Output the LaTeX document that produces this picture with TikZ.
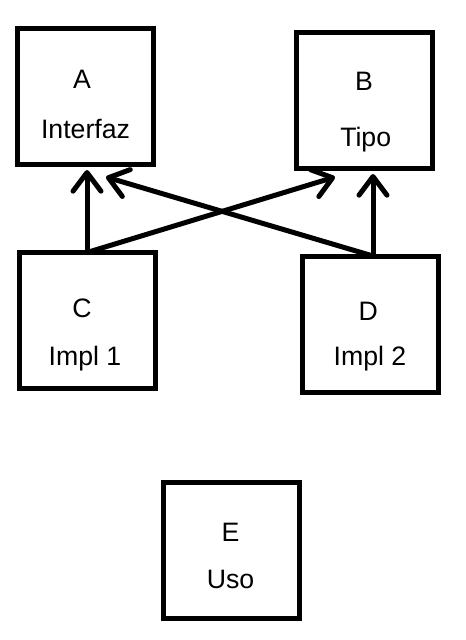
\documentclass[tikz,border=0pt]{standalone}
\usepackage{fontspec}
\setmainfont{Liberation Sans}
\usetikzlibrary{arrows.meta}
\begin{document}
\begin{tikzpicture}[x=0.75pt,y=-0.75pt,
  box/.style={draw=black,line width=3.75pt,minimum width=136*0.75pt,minimum height=136*0.75pt,inner sep=0pt,outer sep=0pt},
  txt/.style={anchor=base,font=\fontsize{20}{24}\selectfont,inner sep=0pt},
  arr/.style={line width=3.75pt,line cap=round,-{Straight Barb[length=14pt,width=21pt,line cap=round,line join=round]}}]
\useasboundingbox (0,0) rectangle (466,640);
\node[box] (A) at (85,96.5) {};
\node[box] (B) at (364.5,100) {};
\node[box] (C) at (87,320.5) {};
\node[box] (D) at (370,324) {};
\node[box] (E) at (231,550) {};
\node[txt] (At) at (82,88.5) {A};
\node[txt] (Aw) at (85.5,138.3) {Interfaz};
\node[txt] (Bt) at (364,90.7) {B};
\node[txt] (Bw) at (365.7,146) {Tipo};
\node[txt] (Ct) at (82,317.3) {C};
\node[txt] (Cw) at (85,365) {Impl 1};
\node[txt] (Dt) at (368.3,320) {D};
\node[txt] (Dw) at (370,365.7) {Impl 2};
\node[txt] (Et) at (230.5,541.7) {E};
\node[txt] (Ew) at (230.5,588.3) {Uso};
\coordinate (tAv) at (88,170);
\coordinate (tAd) at (106,177);
\coordinate (tBd) at (335,177);
\coordinate (tBv) at (373,174);
\draw[arr] (C.north) -- (C.north |- tAv);
\draw[arr] (C.north) -- (tBd);
\draw[arr] ([xshift=2.25pt]D.north) -- (tAd);
\draw[arr] ([xshift=2.25pt]D.north) -- ([xshift=2.25pt]D.north |- tBv);
\end{tikzpicture}
\end{document}
